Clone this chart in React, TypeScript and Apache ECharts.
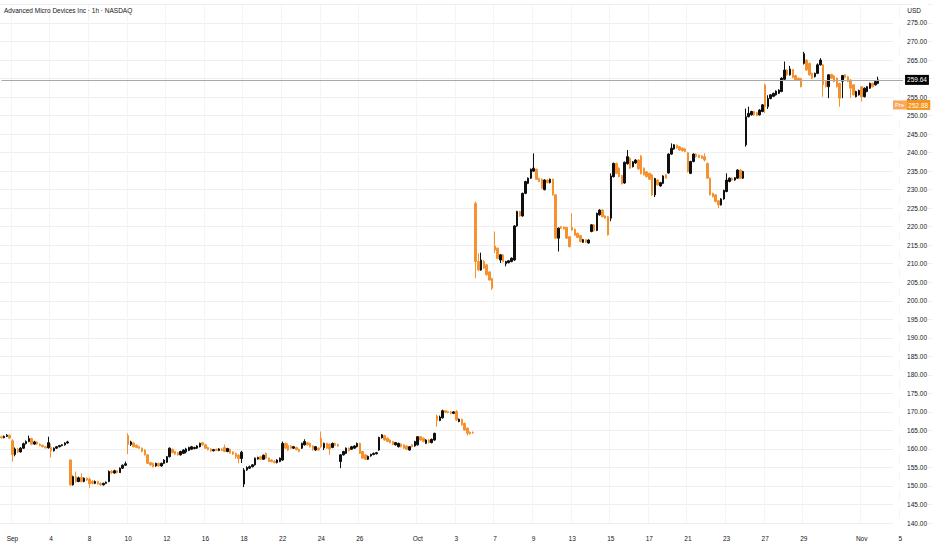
import React, { useEffect, useRef } from "react";
import * as echarts from "echarts";

// hourly sessions (regular hours)
const hours = ["09:30", "10:30", "11:30", "12:30", "13:30", "14:30", "15:30"];

const augustDays = ["08-29"];
const septemberDays = [
    "09-02", "09-03", "09-04", "09-05", "09-08", "09-09", "09-10", "09-11", "09-12", "09-15", "09-16",
    "09-17", "09-18", "09-19", "09-22", "09-23", "09-24", "09-25", "09-26", "09-29", "09-30",
];
const octoberDays = [
    "10-01", "10-02", "10-03", "10-06", "10-07", "10-08", "10-09", "10-10", "10-13", "10-14", "10-15", "10-16",
    "10-17", "10-20", "10-21", "10-22", "10-23", "10-24", "10-27", "10-28", "10-29", "10-30", "10-31",
];
const novemberDays = ["11-03"];
const futureDays = ["11-04", "11-05", "11-06"];

// time axis tick labels
const dateLabels: Record<string, string> = {
    "09-02": "Sep", "09-04": "4", "09-08": "8", "09-10": "10", "09-12": "12", "09-16": "16", "09-18": "18",
    "09-22": "22", "09-24": "24", "09-26": "26", "10-01": "Oct", "10-03": "3", "10-07": "7", "10-09": "9",
    "10-13": "13", "10-15": "15", "10-17": "17", "10-21": "21", "10-23": "23", "10-27": "27", "10-29": "29",
    "11-03": "Nov", "11-05": "5",
};

// [open, close, low, high]
const augustBars = [
    [163.3, 163.0, 162.8, 163.6], [163.0, 163.4, 162.9, 163.6], [163.4, 163.7, 163.2, 164.0], [163.7, 162.9, 162.7, 163.9],
];

const septemberBars = [
    // 02
    [162.2, 158.5, 156.6, 162.6], [158.5, 160.0, 158.0, 160.4], [160.0, 159.2, 158.9, 160.3], [159.2, 160.2, 159.0, 160.5],
    [160.2, 161.4, 160.0, 161.7], [161.4, 162.0, 161.2, 162.3], [162.0, 162.8, 161.8, 163.6],
    // 03
    [162.8, 161.3, 161.0, 163.0], [161.3, 161.9, 161.1, 162.2], [161.9, 161.3, 161.1, 162.1], [161.3, 160.9, 160.7, 161.5],
    [161.0, 160.6, 160.4, 161.2], [160.6, 160.3, 160.1, 160.8], [160.3, 161.7, 160.1, 163.3],
    // 04
    [160.4, 159.5, 157.7, 161.5], [159.5, 160.2, 159.3, 160.4], [160.2, 160.6, 160.0, 160.8], [160.6, 160.9, 160.4, 161.1],
    [160.9, 161.1, 160.7, 161.3], [161.1, 161.6, 160.9, 161.8], [161.6, 161.9, 161.4, 162.2],
    // 05
    [157.0, 150.3, 150.0, 157.2], [150.3, 152.5, 150.1, 152.8], [152.5, 151.2, 150.9, 153.9], [151.2, 152.2, 151.0, 152.5],
    [152.3, 151.2, 151.0, 153.4], [151.2, 152.1, 151.0, 152.3], [152.1, 151.6, 151.3, 152.3],
    // 08
    [151.8, 150.6, 149.4, 152.3], [151.2, 150.7, 150.4, 151.6], [150.7, 151.2, 150.5, 151.5], [151.2, 150.6, 150.3, 151.4],
    [150.7, 150.3, 150.0, 151.0], [150.3, 150.7, 150.1, 150.9], [150.7, 151.0, 150.5, 151.2],
    // 09
    [151.2, 153.9, 151.0, 154.2], [154.0, 153.5, 153.2, 154.3], [153.5, 154.1, 153.3, 154.4], [154.1, 153.6, 153.4, 154.3],
    [153.6, 154.8, 153.5, 155.0], [154.8, 155.6, 154.6, 155.8], [155.6, 156.0, 155.4, 156.6],
    // 10
    [163.6, 161.2, 158.6, 164.2], [161.2, 161.9, 160.8, 162.2], [161.6, 160.6, 160.4, 161.9], [161.0, 160.4, 160.2, 161.2],
    [160.6, 160.2, 160.0, 160.8], [160.2, 159.3, 159.1, 160.4], [159.7, 158.4, 158.2, 159.9],
    // 11
    [158.4, 156.1, 155.9, 158.6], [156.3, 155.7, 155.4, 156.5], [156.1, 155.2, 155.0, 156.3], [155.4, 156.1, 155.2, 156.3],
    [156.1, 155.4, 155.2, 156.3], [155.4, 156.1, 155.2, 156.3], [156.1, 157.0, 155.9, 157.2],
    // 12
    [156.4, 157.9, 156.2, 158.1], [157.9, 160.2, 157.7, 160.4], [159.9, 159.0, 158.8, 160.1], [159.3, 158.6, 158.4, 159.5],
    [159.0, 158.4, 158.2, 159.2], [158.4, 159.3, 158.2, 159.5], [158.8, 159.7, 158.6, 159.9],
    // 15
    [159.2, 160.0, 158.8, 160.3], [159.6, 160.4, 159.4, 160.6], [159.9, 160.6, 159.7, 160.8], [160.1, 160.4, 159.9, 160.6],
    [160.2, 160.8, 160.0, 161.0], [160.6, 161.5, 160.4, 161.7], [161.7, 161.1, 160.9, 161.9],
    // 16
    [161.1, 160.2, 160.0, 161.4], [160.4, 159.8, 159.6, 160.6], [160.0, 159.5, 159.2, 160.2], [159.5, 159.8, 159.3, 160.0],
    [159.9, 159.6, 159.4, 160.1], [159.6, 160.0, 159.4, 160.2], [160.0, 159.6, 159.4, 160.2],
    // 17
    [160.4, 159.3, 159.1, 161.2], [159.3, 160.1, 159.1, 160.3], [159.9, 158.9, 158.7, 160.1], [159.2, 158.6, 158.4, 159.4],
    [158.8, 157.9, 157.3, 159.0], [158.3, 157.4, 156.1, 158.6], [157.4, 159.1, 156.2, 159.5],
    // 18
    [150.5, 154.3, 149.7, 154.8], [154.3, 155.0, 154.1, 155.3], [154.8, 155.2, 154.6, 155.5], [155.2, 155.7, 155.0, 155.9],
    [155.7, 157.5, 155.5, 157.7], [157.3, 157.7, 157.1, 157.9], [157.9, 157.2, 157.0, 158.1],
    // 19
    [157.2, 158.3, 157.0, 158.5], [158.8, 157.5, 157.3, 159.0], [157.5, 156.6, 156.4, 157.7], [157.0, 156.6, 156.4, 157.2],
    [156.7, 156.3, 156.1, 156.9], [156.3, 157.0, 156.1, 157.2], [156.6, 157.5, 156.4, 157.7],
    // 22
    [157.0, 161.5, 156.8, 162.0], [161.5, 160.2, 160.0, 161.7], [160.9, 159.7, 159.5, 161.5], [160.8, 160.2, 160.0, 161.0],
    [160.2, 160.6, 160.0, 160.8], [160.4, 159.8, 159.6, 160.6], [159.9, 159.3, 159.1, 160.1],
    // 23
    [160.2, 161.5, 160.0, 161.7], [161.1, 162.0, 160.9, 162.6], [161.7, 161.1, 160.9, 161.9], [161.5, 160.6, 160.4, 161.7],
    [160.8, 160.0, 159.5, 161.0], [159.7, 160.6, 159.5, 160.8], [160.2, 159.7, 159.5, 160.4],
    // 24
    [162.9, 160.6, 160.2, 164.7], [160.3, 161.5, 159.7, 161.7], [161.5, 160.2, 160.0, 161.7], [161.3, 160.0, 158.4, 161.5],
    [160.4, 161.5, 160.2, 161.7], [161.5, 161.0, 160.8, 161.7], [161.2, 160.8, 160.6, 161.4],
    // 25
    [156.6, 158.4, 154.8, 158.6], [158.4, 159.3, 158.2, 159.5], [158.8, 160.2, 158.6, 160.4], [160.2, 159.5, 159.3, 160.4],
    [159.9, 160.6, 159.7, 160.8], [160.2, 160.8, 160.0, 161.0], [160.6, 161.5, 160.4, 161.7],
    // 26
    [161.5, 158.8, 158.6, 161.7], [159.3, 157.5, 157.3, 159.5], [158.4, 157.2, 157.0, 158.6], [157.2, 158.0, 157.0, 158.2],
    [158.1, 158.5, 157.9, 158.7], [158.5, 158.8, 158.3, 159.0], [158.7, 159.0, 158.5, 159.2],
    // 29
    [159.7, 163.1, 159.5, 163.3], [163.0, 163.8, 162.8, 164.0], [163.6, 162.4, 162.2, 163.8], [162.9, 162.0, 161.8, 163.1],
    [162.4, 161.7, 161.5, 162.6], [162.0, 161.2, 161.0, 162.2], [161.1, 161.7, 160.9, 161.9],
    // 30
    [160.6, 161.5, 160.4, 161.7], [161.3, 160.6, 160.4, 161.5], [161.1, 160.2, 160.0, 161.3], [160.8, 159.9, 159.7, 161.0],
    [159.7, 160.6, 159.5, 160.8], [161.1, 160.6, 160.4, 161.3], [160.8, 162.0, 160.6, 162.2],
];

const octoberBars = [
    // 01
    [161.1, 163.3, 160.9, 163.5], [163.3, 162.4, 162.2, 163.5], [162.9, 162.0, 161.8, 163.1], [161.5, 162.4, 161.3, 162.6],
    [162.4, 161.7, 161.5, 162.6], [161.7, 162.6, 161.5, 162.8], [162.4, 164.2, 162.2, 164.4],
    // 02
    [168.9, 167.7, 166.0, 169.3], [167.7, 168.6, 167.5, 169.0], [168.4, 170.3, 168.2, 170.6], [170.3, 169.9, 169.7, 170.5],
    [170.1, 169.8, 169.6, 170.3], [170.0, 169.6, 169.4, 170.2], [169.6, 170.0, 169.4, 170.2],
    // 03
    [170.1, 167.8, 167.6, 170.5], [167.4, 168.0, 167.2, 168.2], [168.0, 166.5, 166.3, 168.2], [166.9, 165.1, 164.9, 167.1],
    [165.6, 164.2, 163.6, 165.8], [164.5, 164.1, 163.9, 164.7], [164.5, 164.3, 164.1, 164.7],
    // 06
    [226.3, 210.6, 206.1, 226.8], [210.6, 208.3, 208.0, 212.8], [208.3, 211.0, 208.1, 213.0], [210.6, 208.8, 208.6, 211.0],
    [209.7, 207.0, 206.8, 209.9], [207.8, 205.6, 205.4, 208.0], [206.0, 203.4, 202.9, 206.2],
    // 07
    [214.8, 213.7, 212.9, 218.7], [214.2, 211.4, 211.2, 214.4], [211.0, 212.4, 210.2, 212.6], [212.4, 210.6, 210.4, 212.6],
    [210.0, 210.6, 209.3, 210.8], [210.3, 210.8, 210.1, 211.0], [210.6, 211.5, 210.4, 211.7],
    // 08
    [211.0, 220.2, 210.8, 220.4], [220.2, 224.1, 220.0, 224.3], [224.1, 222.9, 222.7, 224.3], [222.9, 229.0, 222.7, 229.2],
    [229.0, 232.2, 228.8, 232.4], [231.7, 233.1, 231.5, 233.3], [233.1, 235.5, 232.9, 235.7],
    // 09
    [235.0, 235.8, 234.8, 239.8], [235.5, 232.8, 232.6, 235.7], [233.0, 232.2, 232.0, 233.2], [232.8, 230.4, 230.2, 233.0],
    [230.0, 232.6, 229.8, 232.8], [232.6, 231.9, 231.7, 232.8], [231.9, 232.8, 231.7, 233.0],
    // 10
    [232.8, 228.6, 228.4, 233.0], [228.6, 216.9, 216.7, 228.8], [216.9, 219.6, 213.3, 219.8], [220.0, 219.6, 219.4, 220.2],
    [219.9, 219.4, 219.2, 220.1], [219.8, 216.9, 216.7, 220.0], [217.3, 214.6, 214.4, 217.5],
    // 13
    [219.8, 219.1, 218.9, 223.6], [219.3, 217.7, 217.5, 219.5], [218.2, 217.1, 216.9, 218.4], [217.6, 216.0, 215.8, 217.8],
    [215.8, 216.5, 215.6, 216.7], [216.5, 215.8, 215.6, 216.7], [215.6, 216.4, 215.4, 216.6],
    // 14
    [218.7, 220.5, 218.5, 220.7], [220.5, 218.9, 218.7, 220.7], [219.0, 223.6, 218.8, 223.8], [223.2, 224.5, 223.0, 224.7],
    [224.5, 222.7, 222.5, 224.7], [222.9, 222.3, 222.1, 223.1], [222.7, 217.8, 217.6, 222.9],
    // 15
    [222.3, 233.7, 221.5, 234.4], [233.5, 237.1, 233.3, 237.3], [237.1, 234.4, 234.2, 237.3], [235.8, 233.5, 233.3, 236.0],
    [233.8, 231.6, 231.4, 234.0], [231.8, 237.4, 231.6, 237.6], [237.0, 238.9, 236.8, 240.7],
    // 16
    [238.5, 235.8, 235.6, 238.7], [236.2, 237.5, 236.0, 237.7], [237.2, 238.0, 237.0, 238.2], [238.0, 235.6, 235.4, 238.2],
    [239.0, 234.3, 234.1, 239.4], [235.8, 234.0, 233.8, 236.0], [234.8, 233.5, 233.3, 235.0],
    // 17
    [234.4, 232.8, 232.6, 234.6], [234.0, 228.6, 228.3, 234.2], [228.6, 233.0, 228.0, 233.2], [232.6, 231.3, 231.1, 232.8],
    [231.0, 231.9, 230.8, 232.1], [231.7, 233.7, 231.5, 233.9], [234.0, 233.1, 232.9, 234.2],
    // 20
    [234.5, 239.6, 234.3, 239.8], [239.6, 241.2, 239.4, 242.5], [241.0, 242.1, 240.8, 242.3], [242.0, 241.3, 241.1, 242.2],
    [241.6, 240.7, 240.5, 241.8], [241.2, 240.5, 240.3, 241.4], [241.0, 240.3, 240.1, 241.2],
    // 21
    [240.0, 234.9, 234.6, 240.2], [234.4, 237.6, 234.2, 237.8], [237.6, 239.6, 237.4, 239.8], [239.6, 238.9, 238.7, 239.8],
    [239.3, 238.7, 238.5, 239.5], [239.1, 238.5, 238.3, 239.3], [238.9, 238.0, 237.6, 239.8],
    // 22
    [237.1, 233.1, 232.9, 237.3], [233.1, 228.6, 228.4, 233.3], [229.0, 228.1, 227.9, 229.2], [228.6, 226.8, 226.6, 228.8],
    [227.0, 225.9, 225.0, 227.2], [225.9, 227.5, 225.7, 227.7], [227.5, 229.8, 227.3, 230.0],
    // 23
    [229.5, 232.6, 229.3, 234.4], [232.2, 233.1, 232.0, 233.3], [233.1, 232.6, 232.4, 233.3], [232.6, 233.2, 232.4, 233.4],
    [233.1, 235.3, 232.9, 235.5], [235.3, 233.1, 232.9, 235.5], [233.1, 234.9, 232.9, 235.1],
    // 24
    [242.1, 249.7, 241.6, 251.9], [249.7, 250.6, 249.5, 252.4], [250.2, 251.1, 250.0, 251.3], [251.1, 250.2, 250.0, 251.3],
    [250.8, 250.0, 249.8, 251.0], [250.2, 251.5, 250.0, 251.7], [251.1, 252.9, 250.9, 253.1],
    // 27
    [258.3, 252.4, 250.7, 258.6], [252.4, 254.6, 251.8, 255.5], [254.6, 255.6, 254.4, 255.8], [255.2, 256.0, 255.0, 256.2],
    [255.6, 256.6, 255.4, 256.8], [256.0, 256.9, 255.8, 257.1], [256.5, 260.1, 256.3, 260.3],
    // 28
    [259.8, 262.3, 259.6, 264.6], [262.3, 261.0, 260.8, 262.5], [261.0, 262.6, 260.8, 263.4], [262.4, 260.3, 260.1, 262.6],
    [260.8, 259.6, 259.4, 261.0], [260.1, 259.6, 259.4, 260.3], [260.0, 257.8, 257.6, 260.2],
    // 29
    [264.1, 266.7, 263.8, 267.2], [265.0, 262.3, 262.1, 265.2], [264.1, 261.0, 260.8, 264.3], [261.4, 260.1, 259.9, 261.6],
    [260.5, 261.4, 260.3, 261.6], [261.4, 263.7, 261.2, 264.1], [263.7, 265.0, 263.5, 265.5],
    // 30
    [263.7, 258.3, 255.1, 263.9], [259.2, 257.8, 257.6, 259.4], [257.8, 261.0, 254.7, 261.2], [261.1, 260.1, 259.9, 261.3],
    [260.7, 259.2, 259.0, 260.9], [260.1, 257.8, 257.6, 260.3], [258.7, 254.7, 252.4, 258.9],
    // 31
    [259.3, 260.8, 254.7, 261.0], [261.0, 260.3, 260.1, 261.2], [260.5, 259.2, 259.0, 260.7], [259.6, 257.4, 254.7, 259.8],
    [258.3, 255.6, 255.4, 258.5], [255.1, 256.5, 254.9, 256.7], [255.6, 256.8, 255.4, 257.0],
];

const novemberBars = [
    // 03
    [257.8, 255.1, 253.8, 258.0], [255.1, 257.4, 254.9, 257.6], [256.5, 257.8, 256.3, 258.0], [257.4, 258.7, 257.2, 258.9],
    [258.7, 257.8, 257.6, 258.9], [258.3, 259.2, 258.1, 259.4], [258.7, 259.64, 258.5, 260.5],
];

const lastPrice = 259.64;
const prePrice = 252.88;

const yTicks = { min: 140, max: 280, step: 5 };

const slotCount = 338; // visible hourly slots incl. empty space on the right
const font = "'Liberation Sans', Arial, sans-serif";
const textColor = "#131722";
const upColor = "#0f0f0f";
const downColor = "#f5922f";

const App = () => {
    const chartRef = useRef<HTMLDivElement>(null);

    useEffect(() => {
        const chart = echarts.init(chartRef.current, null, { renderer: "svg" });

        const dayHours = (d: string, hs: string[]) => hs.map((h) => `${d} ${h}`);
        const categories = [
            ...augustDays.flatMap((d) => dayHours(d, hours.slice(3))),
            ...septemberDays.flatMap((d) => dayHours(d, hours)),
            ...octoberDays.flatMap((d) => dayHours(d, hours)),
            ...novemberDays.flatMap((d) => dayHours(d, hours)),
            ...futureDays.flatMap((d) => dayHours(d, hours)),
        ].slice(0, slotCount);

        const bars = [...augustBars, ...septemberBars, ...octoberBars, ...novemberBars];

        const isLabelled = (_i: number, v: string) => v.endsWith("09:30") && dateLabels[v.slice(0, 5)] !== undefined;

        const option = {
            animation: false,
            backgroundColor: "#ffffff",
            textStyle: { fontFamily: font },
            title: [
                {
                    text: "Advanced Micro Devices Inc · 1h · NASDAQ",
                    left: 4,
                    top: 7,
                    padding: 0,
                    textStyle: { fontSize: 6.5, fontWeight: "normal", color: textColor, fontFamily: font },
                },
                {
                    text: "USD",
                    right: 11,
                    top: 7,
                    padding: 0,
                    textStyle: { fontSize: 6.5, fontWeight: "normal", color: textColor, fontFamily: font },
                },
            ],
            grid: { left: 0, right: 0, top: 4.48, bottom: 27, containLabel: false },
            xAxis: {
                type: "category",
                data: categories,
                boundaryGap: true,
                axisLine: { show: false },
                axisTick: { show: false },
                axisLabel: {
                    interval: isLabelled,
                    formatter: (v: string) => dateLabels[v.slice(0, 5)] ?? "",
                    color: textColor,
                    fontSize: 6.5,
                    margin: 12,
                    fontFamily: font,
                },
                splitLine: { show: true, interval: isLabelled, lineStyle: { color: "#f4f4f4", width: 1 } },
            },
            yAxis: {
                type: "value",
                position: "right",
                min: yTicks.min,
                max: yTicks.max,
                interval: yTicks.step,
                axisLine: { show: false },
                axisTick: { show: false },
                axisLabel: {
                    inside: true,
                    margin: 4,
                    color: textColor,
                    fontSize: 6.5,
                    fontFamily: font,
                    backgroundColor: "#ffffff",
                    padding: [1, 1, 1, 14],
                    formatter: (v: number) => (v >= yTicks.max || v === 260 ? "" : v.toFixed(2)),
                },
                splitLine: { lineStyle: { color: "#efefef", width: 1 } },
            },
            series: [
                {
                    type: "candlestick",
                    data: bars,
                    barWidth: 2,
                    itemStyle: {
                        color: upColor,
                        color0: downColor,
                        borderColor: upColor,
                        borderColor0: downColor,
                        borderWidth: 1,
                    },
                    markLine: {
                        silent: true,
                        symbol: ["none", "none"],
                        data: [
                            [
                                {
                                    coord: [categories[0], lastPrice],
                                    lineStyle: { color: "#a9a9a9", width: 1, type: "solid" },
                                    label: {
                                        show: true,
                                        position: "end",
                                        distance: 2,
                                        formatter: lastPrice.toFixed(2),
                                        backgroundColor: "#000000",
                                        color: "#ffffff",
                                        fontSize: 6.5,
                                        fontFamily: font,
                                        padding: [2, 2, 1, 2],
                                    },
                                },
                                { coord: [categories[327], lastPrice] },
                            ],
                            [
                                {
                                    coord: [categories[310], prePrice],
                                    lineStyle: { color: "rgba(255,255,255,0)", width: 0 },
                                    label: {
                                        show: true,
                                        position: "end",
                                        distance: 1,
                                        formatter: `{a|Pre}{b|${prePrice.toFixed(2)}}`,
                                        rich: {
                                            a: { backgroundColor: "#f8a75c", color: "#ffffff", fontSize: 6, fontFamily: font, padding: [2, 2, 1, 2] },
                                            b: { backgroundColor: "#f7931a", color: "#ffffff", fontSize: 6.5, fontFamily: font, padding: [2, 2, 1, 2] },
                                        },
                                    },
                                },
                                { coord: [categories[323], prePrice] },
                            ],
                        ],
                    },
                },
            ],
        };

        chart.setOption(option);

        return () => {
            chart.dispose();
        };
    }, []);

    return (
        <div
            ref={chartRef}
            style={{ position: "fixed", left: 0, top: 0, width: 932, height: 550, background: "#ffffff" }}
        />
    );
};

export default App;
